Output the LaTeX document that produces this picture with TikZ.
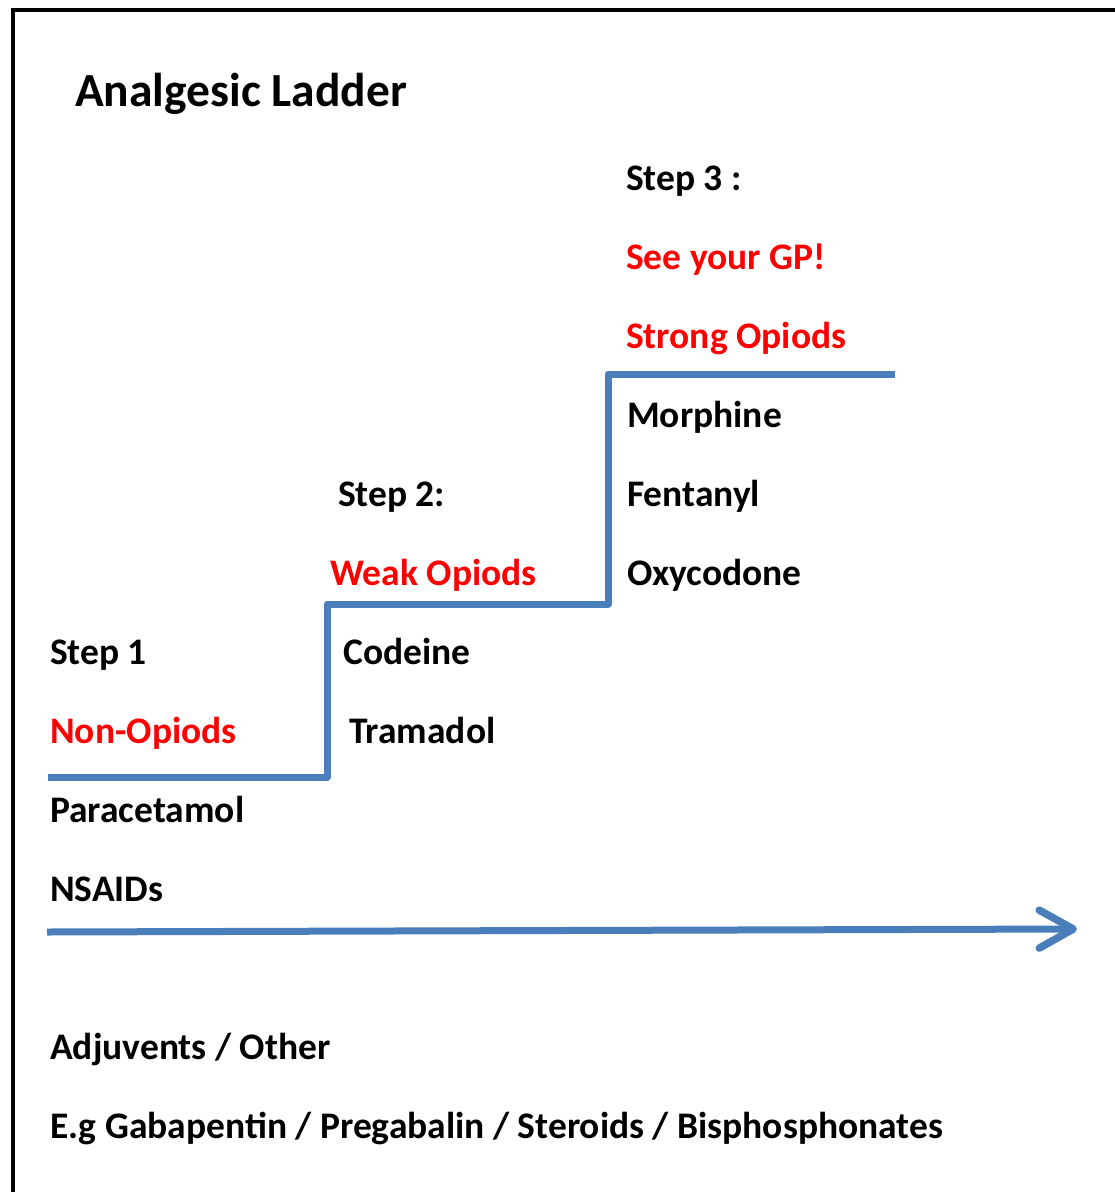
\documentclass[tikz,border=0pt]{standalone}
\usepackage{fontspec}
\setmainfont{Carlito}
\usetikzlibrary{arrows.meta}
\definecolor{ladderblue}{HTML}{4A7EBB}
\definecolor{txtred}{HTML}{FF0000}
\begin{document}
\begin{tikzpicture}[x=1pt,y=-1pt,
  lbl/.style={anchor=base west,inner sep=0pt,font=\fontsize{37.5}{42}\selectfont\bfseries},
  redlbl/.style={lbl,text=txtred},
  ladder/.style={draw=ladderblue,line width=7pt,line join=round,line cap=round},
  frame/.style={draw=black,line width=4pt}]
\useasboundingbox (0,0) rectangle (1115,1192);
\fill[white] (0,0) rectangle (1115,1192);
% frame
\coordinate (fbl) at (12.5,1200);
\coordinate (ftl) at (12.5,9.5);
\coordinate (ftr) at (1125,9.5);
\draw[frame] (fbl) -- (ftl) -- (ftr);
% title
\node[lbl,font=\fontsize{47.5}{52}\selectfont\bfseries] (title) at (75,106) {Analgesic Ladder};
% ladder
\coordinate (l0) at (48,777);
\coordinate (l1) at (327,777);
\coordinate (l2) at (327,604);
\coordinate (l3) at (608,604);
\coordinate (l4) at (608,374);
\coordinate (l5) at (895,374);
\draw[ladder,line cap=butt] (l0) -- (l1) -- (l2) -- (l3) -- (l4) -- (l5);
% arrow
\coordinate (a0) at (47,932);
\coordinate (a1) at (1077,929);
\draw[ladder,line cap=butt,-{Straight Barb[round,length=34pt,width=38pt,line width=7.5pt]}] (a0) -- (a1);
% step 3
\node[lbl] (s3) at (626,190) {Step 3 :};
\node[redlbl] (gp) at (626,269) {See your GP!};
\node[redlbl] (strong) at (626,348) {Strong Opiods};
\node[lbl] (morph) at (627,427) {Morphine};
\node[lbl] (fent) at (627,506) {Fentanyl};
\node[lbl] (oxy) at (627,585) {Oxycodone};
% step 2
\node[lbl] (s2) at (338,506) {Step 2:};
\node[redlbl] (weak) at (330,585) {Weak Opiods};
\node[lbl] (cod) at (343,664) {Codeine};
\node[lbl] (tram) at (349,743) {Tramadol};
% step 1
\node[lbl] (s1) at (50,664) {Step 1};
\node[redlbl] (non) at (50,743) {Non-Opiods};
\node[lbl] (para) at (50,822) {Paracetamol};
\node[lbl] (nsaid) at (50,901) {NSAIDs};
% adjuvents
\node[lbl] (adj) at (50,1059) {Adjuvents / Other};
\node[lbl] (eg) at (50,1138) {E.g Gabapentin / Pregabalin / Steroids / Bisphosphonates};
\end{tikzpicture}
\end{document}
